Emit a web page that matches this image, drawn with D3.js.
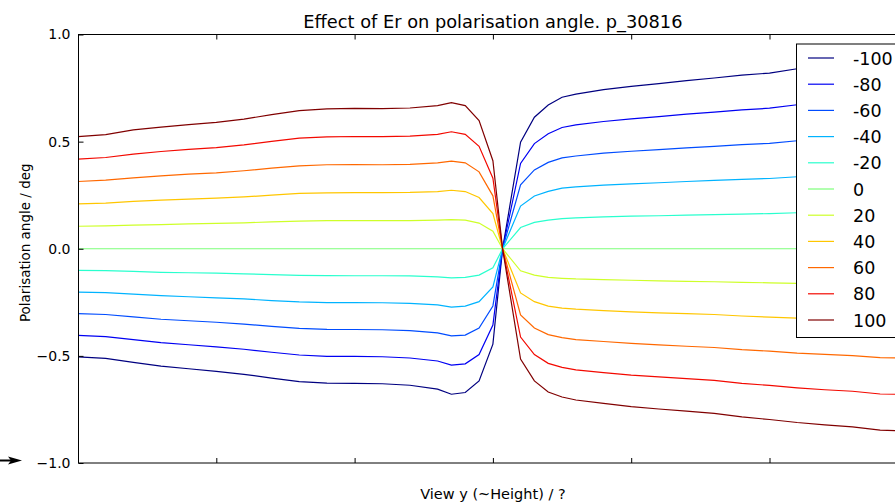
<!DOCTYPE html>
<html>
<head>
<meta charset="utf-8">
<script src="https://cdn.jsdelivr.net/npm/d3@7"></script>
<style>
  body { margin: 0; background: #fff; overflow: hidden; }
  svg { display: block; font-family: "DejaVu Sans", sans-serif; }
</style>
</head>
<body>
<svg id="chart" width="895" height="502"></svg>
<script>
// view y positions (same grid for every Er)
var viewY = [0,2,4,6,8,10,12,14,16,18,20,22,24,26,27,28,29,30,30.7,32,33,34,35,36,38,40,42,44,46,48,50,52,54,56,58,60];

var erLabels = ["-100","-80","-60","-40","-20","0","20","40","60","80","100"];

var angleM100 = [-0.505,-0.512,-0.530,-0.548,-0.560,-0.572,-0.586,-0.604,-0.620,-0.627,-0.628,-0.630,-0.637,-0.655,-0.679,-0.671,-0.617,-0.445,0,0.497,0.614,0.671,0.707,0.722,0.743,0.758,0.771,0.785,0.797,0.810,0.820,0.840,0.850,0.860,0.875,0.878];
var angleM80 = [-0.404,-0.410,-0.424,-0.438,-0.448,-0.458,-0.469,-0.483,-0.496,-0.502,-0.502,-0.504,-0.510,-0.524,-0.543,-0.537,-0.494,-0.356,0,0.398,0.491,0.537,0.566,0.578,0.594,0.606,0.617,0.628,0.638,0.648,0.656,0.672,0.680,0.688,0.700,0.702];
var angleM60 = [-0.303,-0.307,-0.318,-0.329,-0.336,-0.343,-0.352,-0.362,-0.372,-0.376,-0.377,-0.378,-0.382,-0.393,-0.407,-0.403,-0.370,-0.267,0,0.298,0.368,0.403,0.424,0.433,0.446,0.455,0.463,0.471,0.478,0.486,0.492,0.504,0.510,0.516,0.525,0.527];
var angleM40 = [-0.202,-0.205,-0.212,-0.219,-0.224,-0.229,-0.234,-0.242,-0.248,-0.251,-0.251,-0.252,-0.255,-0.262,-0.272,-0.268,-0.247,-0.178,0,0.199,0.246,0.268,0.283,0.289,0.297,0.303,0.308,0.314,0.319,0.324,0.328,0.336,0.340,0.344,0.350,0.351];
var angleM20 = [-0.101,-0.102,-0.106,-0.110,-0.112,-0.114,-0.117,-0.121,-0.124,-0.125,-0.126,-0.126,-0.127,-0.131,-0.136,-0.134,-0.123,-0.089,0,0.099,0.123,0.134,0.141,0.144,0.149,0.152,0.154,0.157,0.159,0.162,0.164,0.168,0.170,0.172,0.175,0.176];
var angle0 = [0,0,0,0,0,0,0,0,0,0,0,0,0,0,0,0,0,0,0,0,0,0,0,0,0,0,0,0,0,0,0,0,0,0,0,0];
var angleP20 = [0.105,0.107,0.110,0.113,0.116,0.118,0.121,0.125,0.129,0.131,0.131,0.131,0.131,0.134,0.136,0.134,0.120,0.082,0,-0.103,-0.123,-0.134,-0.138,-0.141,-0.144,-0.147,-0.150,-0.152,-0.154,-0.157,-0.159,-0.162,-0.164,-0.166,-0.169,-0.170];
var angleP40 = [0.209,0.213,0.221,0.227,0.232,0.236,0.242,0.250,0.258,0.261,0.262,0.262,0.263,0.267,0.273,0.267,0.239,0.164,0,-0.206,-0.247,-0.268,-0.277,-0.282,-0.289,-0.295,-0.299,-0.303,-0.307,-0.314,-0.319,-0.324,-0.329,-0.332,-0.339,-0.340];
var angleP60 = [0.314,0.320,0.331,0.340,0.348,0.354,0.364,0.376,0.387,0.392,0.393,0.392,0.394,0.401,0.409,0.401,0.359,0.247,0,-0.309,-0.370,-0.401,-0.415,-0.424,-0.433,-0.442,-0.449,-0.455,-0.461,-0.471,-0.478,-0.487,-0.493,-0.499,-0.508,-0.510];
var angleP80 = [0.418,0.426,0.442,0.454,0.464,0.472,0.485,0.501,0.516,0.522,0.524,0.523,0.526,0.534,0.546,0.534,0.478,0.329,0,-0.412,-0.494,-0.535,-0.554,-0.565,-0.578,-0.590,-0.598,-0.606,-0.614,-0.628,-0.638,-0.649,-0.658,-0.665,-0.678,-0.680];
var angleP100 = [0.523,0.533,0.555,0.568,0.579,0.590,0.605,0.626,0.645,0.653,0.655,0.654,0.657,0.668,0.682,0.668,0.598,0.411,0,-0.515,-0.617,-0.669,-0.692,-0.706,-0.722,-0.737,-0.748,-0.758,-0.768,-0.785,-0.797,-0.811,-0.822,-0.831,-0.847,-0.850];

var allAngles = [angleM100, angleM80, angleM60, angleM40, angleM20, angle0, angleP20, angleP40, angleP60, angleP80, angleP100];

// jet colours
var lineColors = ["#000080","#0000f3","#004cff","#00b3ff","#29ffce","#7dff7a","#ceff29","#ffc600","#ff6800","#f30900","#800000"];

var yTicks = [-1.0, -0.5, 0.0, 0.5, 1.0];
var xTicks = [10, 20, 30, 40, 50];

var svg = d3.select("#chart");

// plot box (window.top is read only, so no bare "top")
var padL = 78, padR = 907.8, padT = 34.5, padB = 463;

var x = d3.scaleLinear().domain([0, 60]).range([padL, padR]);
var y = d3.scaleLinear().domain([-1, 1]).range([padB, padT]);

svg.append("defs").append("clipPath").attr("id", "plotclip")
  .append("rect").attr("x", padL).attr("y", padT).attr("width", padR - padL).attr("height", padB - padT);

var line = d3.line()
  .x(function (d, i) { return x(viewY[i]); })
  .y(function (d) { return y(d); });

svg.append("g").attr("clip-path", "url(#plotclip)")
  .selectAll("path.er")
  .data(allAngles)
  .enter()
  .append("path")
  .attr("class", "er")
  .attr("fill", "none")
  .attr("stroke", function (d, i) { return lineColors[i]; })
  .attr("stroke-width", 1.2)
  .attr("d", line);

// frame
svg.append("rect")
  .attr("x", padL + 0.5).attr("y", padT)
  .attr("width", padR - padL).attr("height", padB - padT)
  .attr("fill", "none").attr("stroke", "#000").attr("stroke-width", 1);

// ticks inward, all four sides
var yAxisL = d3.axisLeft(y).tickValues(yTicks).tickSizeInner(-5).tickSizeOuter(0).tickPadding(8)
  .tickFormat(d3.format(".1f"));
var gy = svg.append("g").attr("transform", "translate(" + (padL + 0.5) + ",0)").call(yAxisL);
gy.select(".domain").remove();
gy.selectAll("text").attr("font-size", "14px").attr("fill", "#000").attr("font-family", "DejaVu Sans");

var gyR = svg.append("g").attr("transform", "translate(" + padR + ",0)")
  .call(d3.axisRight(y).tickValues(yTicks).tickSizeInner(-5).tickSizeOuter(0).tickFormat(""));
gyR.select(".domain").remove();

var gxB = svg.append("g").attr("transform", "translate(0," + padB + ")")
  .call(d3.axisBottom(x).tickValues(xTicks).tickSizeInner(-5).tickSizeOuter(0).tickFormat(""));
gxB.select(".domain").remove();

var gxT = svg.append("g").attr("transform", "translate(0," + padT + ")")
  .call(d3.axisTop(x).tickValues(xTicks).tickSizeInner(-5).tickSizeOuter(0).tickFormat(""));
gxT.select(".domain").remove();

svg.selectAll(".tick line").attr("stroke", "#000");

// titles
svg.append("text")
  .attr("x", (padL + padR) / 2).attr("y", 28)
  .attr("text-anchor", "middle").attr("font-size", "17.8px")
  .text("Effect of Er on polarisation angle. p_30816");

svg.append("text")
  .attr("x", (padL + padR) / 2).attr("y", 499)
  .attr("text-anchor", "middle").attr("font-size", "14.5px")
  .text("View y (~Height) / ?");

svg.append("text")
  .attr("transform", "translate(30," + ((padT + padB) / 2 - 6) + ") rotate(-90)")
  .attr("text-anchor", "middle").attr("font-size", "13.5px")
  .text("Polarisation angle / deg");

// legend
var legX = 796.5, legY = 44, legStep = 26.2;
var leg = svg.append("g");
leg.append("rect")
  .attr("x", legX).attr("y", legY)
  .attr("width", 140).attr("height", 293.5)
  .attr("fill", "#fff").attr("stroke", "#000").attr("stroke-width", 1);

var items = leg.selectAll("g.item")
  .data(erLabels)
  .enter()
  .append("g")
  .attr("class", "item")
  .attr("transform", function (d, i) { return "translate(0," + (58 + i * legStep) + ")"; });

items.append("line")
  .attr("x1", 808).attr("x2", 834)
  .attr("stroke", function (d, i) { return lineColors[i]; })
  .attr("stroke-width", 1.2);

items.append("text")
  .attr("x", 853).attr("y", 6.5)
  .attr("font-size", "17.5px")
  .text(function (d) { return d; });

// stray arrow at bottom left
svg.append("line").attr("x1", 0).attr("x2", 12).attr("y1", 460.5).attr("y2", 460.5)
  .attr("stroke", "#000").attr("stroke-width", 2);
svg.append("path").attr("d", "M8,456.5 L22,460.5 L8,464.5 L11,460.5 Z").attr("fill", "#000");

// cut-off text at the very bottom
svg.append("text").attr("x", 110).attr("y", 516.5).attr("font-size", "20px").text("W");
svg.append("text").attr("x", 195).attr("y", 516.5).attr("font-size", "20px").text("l");
</script>
</body>
</html>
